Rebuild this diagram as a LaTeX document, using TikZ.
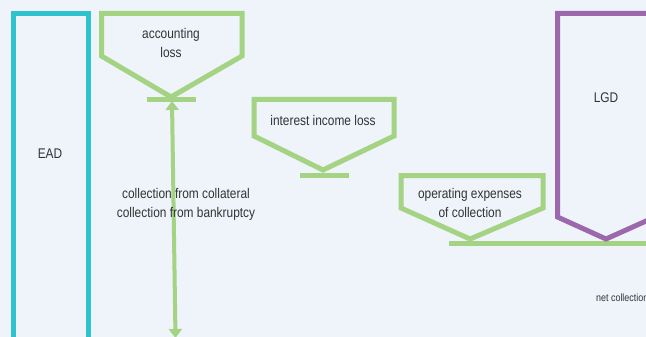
\documentclass[tikz,border=0pt]{standalone}
\usepackage{fontspec}
\setmainfont[FakeStretch=0.85]{Liberation Sans}
\usetikzlibrary{arrows.meta}
\definecolor{bg}{HTML}{EEF4FA}
\definecolor{gr}{HTML}{A4D383}
\definecolor{cy}{HTML}{2FC3CF}
\definecolor{pu}{HTML}{9C68AD}
\definecolor{tx}{HTML}{333333}
\begin{document}
\begin{tikzpicture}[x=1pt,y=-1pt,
  lbl/.style={text=tx,font=\fontsize{14}{19}\selectfont,align=center,inner sep=0pt},
  small/.style={text=tx,font=\fontsize{10.5}{12}\selectfont,inner sep=0pt},
  gline/.style={draw=gr,line width=5pt,line join=miter},
  eadbox/.style={draw=cy,line width=5pt},
  lgdbox/.style={draw=pu,line width=5pt,line join=miter}]
\fill[bg] (0,0) rectangle (646,337);
\useasboundingbox (0,0) rectangle (646,337);
\clip (0,0) rectangle (646,337);
% EAD
\draw[eadbox] (13.5,345) -- (13.5,13.5) -- (88.5,13.5) -- (88.5,345);
\node[lbl] (ead) at (50,154) {EAD};
% accounting loss
\draw[gline] (101.5,13.5) -- (242,13.5) -- (242,56) -- (171,97) -- (101.5,56) -- cycle;
\draw[gline] (147,99.5) -- (196,99.5);
\node[lbl] (acc) at (171,42.5) {accounting\\loss};
% interest income loss
\draw[gline] (254,99.5) -- (394,99.5) -- (394,136) -- (323,170) -- (254,136) -- cycle;
\draw[gline] (300,175) -- (349,175);
\node[lbl] (int) at (323,120) {interest income loss};
% operating expenses
\draw[gline] (401,175.5) -- (543,175.5) -- (543,208) -- (470,239) -- (401,208) -- cycle;
\draw[gline] (449,243.5) -- (650,243.5);
\node[lbl] (ope) at (470,202.5) {operating expenses\\of collection};
% LGD
\draw[lgdbox] (657,13.5) -- (557.5,13.5) -- (557.5,217) -- (606,239) -- (655,217);
\node[lbl] (lgd) at (606,98) {LGD};
% arrow
\coordinate (atop) at (172,101);
\coordinate (abot) at (175.5,338);
\draw[draw=gr,line width=4pt,{Triangle[length=9pt,width=13pt]}-{Triangle[length=9pt,width=13pt]}] (atop) -- (abot);
\node[lbl] (col) at (186,204) {collection from collateral\\collection from bankruptcy};
\node[small,anchor=west] (net) at (596,298) {net collection};
\end{tikzpicture}
\end{document}
